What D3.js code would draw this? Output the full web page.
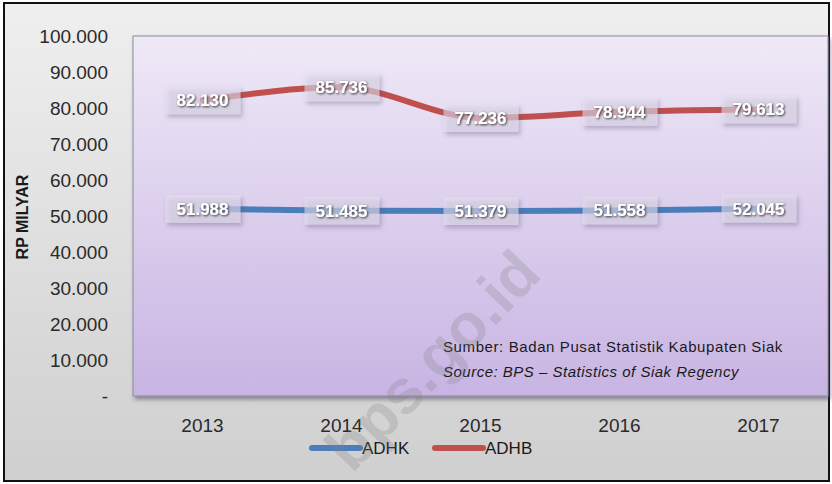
<!DOCTYPE html>
<html>
<head>
<meta charset="utf-8">
<script src="https://cdn.jsdelivr.net/npm/d3@7"></script>
<style>
  body { margin: 0; background: #fff; }
  text { font-family: "Liberation Sans", Arial, sans-serif; }
</style>
</head>
<body>
<div id="chart"></div>
<script>
// Data
var years = ["2013", "2014", "2015", "2016", "2017"];
var adhk = [51988, 51485, 51379, 51558, 52045];
var adhb = [82130, 85736, 77236, 78944, 79613];
var yTicks = [0, 10000, 20000, 30000, 40000, 50000, 60000, 70000, 80000, 90000, 100000];
var seriesNames = ["ADHK", "ADHB"];
var seriesColors = ["#4a7ebb", "#c0504d"];

var svgWidth = 832;
var svgHeight = 484;

var margin = { top: 36, right: 4, bottom: 89, left: 133 };
var width = 828 - margin.left;
var height = 396 - margin.top;

var svg = d3.select("#chart")
  .append("svg")
  .attr("width", svgWidth)
  .attr("height", svgHeight);

var defs = svg.append("defs");

// chart area background gradient
var bgGrad = defs.append("linearGradient")
  .attr("id", "bgGrad").attr("x1", 0).attr("y1", 0).attr("x2", 0).attr("y2", 1);
bgGrad.append("stop").attr("offset", "0%").attr("stop-color", "#efefef");
bgGrad.append("stop").attr("offset", "100%").attr("stop-color", "#cfcfcf");

// plot area gradient
var plotGrad = defs.append("linearGradient")
  .attr("id", "plotGrad").attr("x1", 0).attr("y1", 0).attr("x2", 0).attr("y2", 1);
plotGrad.append("stop").attr("offset", "0%").attr("stop-color", "#efe9f7");
plotGrad.append("stop").attr("offset", "100%").attr("stop-color", "#c8b4e3");

var shadow = defs.append("filter").attr("id", "shadow")
  .attr("x", "-20%").attr("y", "-20%").attr("width", "150%").attr("height", "170%");
shadow.append("feDropShadow").attr("dx", 2).attr("dy", 3).attr("stdDeviation", 2)
  .attr("flood-color", "#4b3a66").attr("flood-opacity", 0.55);

var textShadow = defs.append("filter").attr("id", "textShadow")
  .attr("x", "-10%").attr("y", "-30%").attr("width", "130%").attr("height", "170%");
textShadow.append("feDropShadow").attr("dx", 1).attr("dy", 1).attr("stdDeviation", 0.8)
  .attr("flood-color", "#222").attr("flood-opacity", 0.9);

// outer background + border
svg.append("rect")
  .attr("x", 4).attr("y", 3)
  .attr("width", 825).attr("height", 478)
  .attr("fill", "url(#bgGrad)")
  .attr("stroke", "#111")
  .attr("stroke-width", 2);

var chartGroup = svg.append("g")
  .attr("transform", `translate(${margin.left}, ${margin.top})`);

// scales
var xScale = d3.scaleBand()
  .domain(years)
  .range([0, width]);

var yScale = d3.scaleLinear()
  .domain([0, 100000])
  .range([height, 0]);

// plot area
chartGroup.append("rect")
  .attr("width", width)
  .attr("height", height)
  .attr("fill", "url(#plotGrad)")
  .attr("stroke", "#8c8c9c")
  .attr("stroke-width", 1)
  .attr("filter", "url(#shadow)");

// y axis labels
var fmt = function(d) {
  if (d === 0) return "-";
  return d3.format(",")(d).replace(/,/g, ".");
};

var leftAxis = d3.axisLeft(yScale)
  .tickValues(yTicks)
  .tickFormat(fmt)
  .tickSize(0)
  .tickPadding(25);

var yAxis = chartGroup.append("g").call(leftAxis);
yAxis.select(".domain").remove();
yAxis.selectAll("text")
  .attr("font-size", 19)
  .attr("fill", "#2a2a2a")
  .style("font-family", "Liberation Sans, Arial, sans-serif");

// x axis labels
var bottomAxis = d3.axisBottom(xScale).tickSize(0).tickPadding(23);
var xAxis = chartGroup.append("g")
  .attr("transform", `translate(0, ${height})`)
  .call(bottomAxis);
xAxis.select(".domain").remove();
xAxis.selectAll("text")
  .attr("font-size", 19)
  .attr("fill", "#2a2a2a")
  .style("font-family", "Liberation Sans, Arial, sans-serif");

// y axis title
svg.append("text")
  .attr("transform", "translate(28, 217) rotate(-90)")
  .attr("text-anchor", "middle")
  .attr("font-size", 16)
  .attr("font-weight", "bold")
  .attr("fill", "#1a1a1a")
  .text("RP MILYAR");

// source note
chartGroup.append("text")
  .attr("x", 443 - margin.left)
  .attr("y", 352 - margin.top)
  .attr("font-size", 15)
  .attr("letter-spacing", 0.6)
  .attr("fill", "#1a1a1a")
  .text("Sumber: Badan Pusat Statistik Kabupaten Siak");

chartGroup.append("text")
  .attr("x", 443 - margin.left)
  .attr("y", 377 - margin.top)
  .attr("font-size", 15)
  .attr("letter-spacing", 0.5)
  .attr("font-style", "italic")
  .attr("fill", "#1a1a1a")
  .text("Source: BPS \u2013 Statistics of Siak Regency");

// lines
var allSeries = [adhk, adhb];
var line = d3.line()
  .x(function(d, i) { return xScale(years[i]) + xScale.bandwidth() / 2; })
  .y(function(d) { return yScale(d); })
  .curve(d3.curveMonotoneX);

allSeries.forEach(function(values, s) {
  chartGroup.append("path")
    .datum(values)
    .attr("fill", "none")
    .attr("stroke", seriesColors[s])
    .attr("stroke-width", 6)
    .attr("stroke-linecap", "round")
    .attr("d", line);
});

// data labels
allSeries.forEach(function(values, s) {
  var labels = chartGroup.selectAll(".lbl" + s)
    .data(values)
    .enter()
    .append("g")
    .attr("class", "lbl" + s)
    .attr("transform", function(d, i) {
      return `translate(${xScale(years[i]) + xScale.bandwidth() / 2}, ${yScale(d)})`;
    });

  labels.append("rect")
    .attr("x", -37)
    .attr("y", -14)
    .attr("width", 75)
    .attr("height", 28)
    .attr("fill", "#e6e0f0")
    .attr("fill-opacity", 0.55)
    .attr("filter", "url(#shadow)");

  labels.append("text")
    .attr("text-anchor", "middle")
    .attr("dy", "0.35em")
    .attr("font-size", 17)
    .attr("font-weight", "bold")
    .attr("fill", "#ffffff")
    .attr("filter", "url(#textShadow)")
    .text(function(d) { return fmt(d); });
});

// legend
var legend = svg.append("g").attr("transform", "translate(310, 448)");
var legendX = [0, 123];
seriesNames.forEach(function(name, s) {
  var item = legend.append("g").attr("transform", `translate(${legendX[s]}, 0)`);
  item.append("line")
    .attr("x1", 2).attr("x2", 50)
    .attr("stroke", seriesColors[s])
    .attr("stroke-width", 6)
    .attr("stroke-linecap", "round");
  item.append("text")
    .attr("x", 52)
    .attr("dy", "0.35em")
    .attr("font-size", 17)
    .attr("fill", "#1a1a1a")
    .text(name);
});

// watermark
svg.append("text")
  .attr("transform", "translate(432, 360) rotate(-46)")
  .attr("text-anchor", "middle")
  .attr("dy", "0.35em")
  .attr("font-size", 62)
  .attr("font-weight", "bold")
  .attr("fill", "#808080")
  .attr("fill-opacity", 0.25)
  .text("bps.go.id");
</script>
</body>
</html>
